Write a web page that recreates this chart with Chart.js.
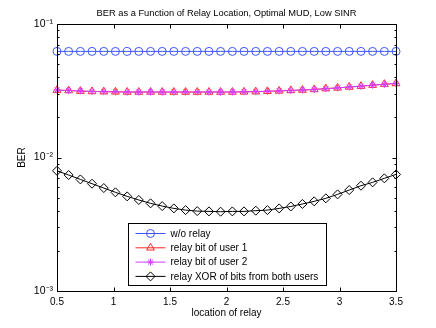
<!DOCTYPE html>
<html>
<head>
<meta charset="utf-8">
<script src="https://cdn.jsdelivr.net/npm/chart.js@4/dist/chart.umd.min.js"></script>
<style>
  html, body { margin: 0; padding: 0; background: #fff; }
  #wrap { width: 436px; height: 328px; }
</style>
</head>
<body>
<div id="wrap"><canvas id="berChart"></canvas></div>
<script>
// relay position (30 points from 0.5 to 3.5)
const relayLoc = [0.500, 0.603, 0.707, 0.810, 0.914, 1.017, 1.121, 1.224, 1.328, 1.431,
  1.534, 1.638, 1.741, 1.845, 1.948, 2.052, 2.155, 2.259, 2.362, 2.466,
  2.569, 2.672, 2.776, 2.879, 2.983, 3.086, 3.190, 3.293, 3.397, 3.500];

const berNoRelay = [0.0625, 0.0625, 0.0625, 0.0625, 0.0625, 0.0625, 0.0625, 0.0625, 0.0625, 0.0625,
  0.0625, 0.0625, 0.0625, 0.0625, 0.0625, 0.0625, 0.0625, 0.0625, 0.0625, 0.0625,
  0.0625, 0.0625, 0.0625, 0.0625, 0.0625, 0.0625, 0.0625, 0.0625, 0.0625, 0.0625];

const berUser1 = [0.0320, 0.0318, 0.0315, 0.0313, 0.0312, 0.0311, 0.0310, 0.0310, 0.0310, 0.0310,
  0.0310, 0.0310, 0.0310, 0.0310, 0.0310, 0.0310, 0.0311, 0.0312, 0.0314, 0.0316,
  0.0319, 0.0321, 0.0324, 0.0329, 0.0333, 0.0338, 0.0343, 0.0349, 0.0355, 0.0359];

const berUser2 = [0.0321, 0.0318, 0.0316, 0.0313, 0.0312, 0.0311, 0.0310, 0.0310, 0.0310, 0.0310,
  0.0310, 0.0310, 0.0310, 0.0310, 0.0310, 0.0310, 0.0311, 0.0312, 0.0314, 0.0316,
  0.0318, 0.0321, 0.0324, 0.0328, 0.0333, 0.0338, 0.0343, 0.0349, 0.0354, 0.0360];

const berXor = [0.00796, 0.00740, 0.00686, 0.00637, 0.00591, 0.00549, 0.00512, 0.00481, 0.00454, 0.00433,
  0.00416, 0.00404, 0.00397, 0.00395, 0.00393, 0.00395, 0.00395, 0.00400, 0.00404, 0.00416,
  0.00430, 0.00449, 0.00470, 0.00495, 0.00530, 0.00571, 0.00615, 0.00652, 0.00699, 0.00748];

const xTicks = [0.5, 1, 1.5, 2, 2.5, 3, 3.5];
const yTicks = [0.001, 0.002, 0.003, 0.004, 0.005, 0.006, 0.007, 0.008, 0.009,
  0.01, 0.02, 0.03, 0.04, 0.05, 0.06, 0.07, 0.08, 0.09, 0.1];
const yMajor = { 0.001: "10⁻³", 0.01: "10⁻²", 0.1: "10⁻¹" };

const FONT = "'Liberation Sans', Arial, sans-serif";

function pts(arr) {
  return arr.map((v, i) => ({ x: relayLoc[i], y: v }));
}

function series(label, values, color, style, radius, order) {
  return {
    label: label,
    data: pts(values),
    order: order, // matlab: later lines sit on top
    borderColor: color,
    borderWidth: 1,
    pointStyle: style,
    pointRadius: radius,
    pointBorderColor: color,
    pointBackgroundColor: "rgba(0,0,0,0)",
    pointBorderWidth: 1,
    fill: false,
    tension: 0,
    clip: false,
  };
}

// MATLAB style frame, inward ticks and a legend box inside the axes
const matlabAxes = {
  id: "matlabAxes",
  afterDraw(chart) {
    const ctx = chart.ctx;
    const a = chart.chartArea;
    const xs = chart.scales.x;
    const ys = chart.scales.y;
    ctx.save();
    ctx.strokeStyle = "#000";
    ctx.lineWidth = 1;
    const L = Math.round(a.left) + 0.5, R = Math.round(a.right) + 0.5;
    const T = Math.round(a.top) + 0.5, B = Math.round(a.bottom) + 0.5;
    ctx.strokeRect(L, T, R - L, B - T);
    ctx.beginPath();
    xTicks.forEach((v) => {
      const px = Math.round(xs.getPixelForValue(v)) + 0.5;
      ctx.moveTo(px, B); ctx.lineTo(px, B - 4);
      ctx.moveTo(px, T); ctx.lineTo(px, T + 4);
    });
    yTicks.forEach((v) => {
      const py = Math.round(ys.getPixelForValue(v)) + 0.5;
      const len = yMajor[v] ? 4 : 2;
      ctx.moveTo(L, py); ctx.lineTo(L + len, py);
      ctx.moveTo(R, py); ctx.lineTo(R - len, py);
    });
    ctx.stroke();

    // legend
    const bx = Math.round(a.left) + 71.5, bw = 198;
    const bh = 62, by = Math.round(a.bottom) - 5.5 - bh;
    ctx.fillStyle = "#fff";
    ctx.fillRect(bx, by, bw, bh);
    ctx.strokeRect(bx, by, bw, bh);
    ctx.font = "10px " + FONT;
    ctx.textBaseline = "middle";
    chart.data.datasets.forEach((ds, i) => {
      const cy = by + 10 + i * 14.3;
      ctx.strokeStyle = ds.borderColor;
      ctx.beginPath();
      ctx.moveTo(bx + 7, cy); ctx.lineTo(bx + 37, cy);
      ctx.stroke();
      ctx.fillStyle = "rgba(0,0,0,0)";
      Chart.helpers.drawPoint(ctx, {
        pointStyle: ds.pointStyle,
        radius: ds.pointRadius,
        rotation: 0,
        borderWidth: 1,
      }, bx + 22, cy);
      ctx.fillStyle = "#000";
      ctx.fillText(ds.label, bx + 42, cy + 0.5);
    });
    ctx.restore();
  },
};

const ctx = document.getElementById("berChart");
new Chart(ctx, {
  type: "line",
  data: {
    datasets: [
      series("w/o relay", berNoRelay, "#3d55ff", "circle", 4, 3),
      series("relay bit of user 1", berUser1, "#ff2a2a", "triangle", 4.5, 2),
      series("relay bit of user 2", berUser2, "#d23cff", "star", 3.5, 1),
      series("relay XOR of bits from both users", berXor, "#000", "rectRot", 4.5, 0),
    ],
  },
  options: {
    responsive: true,
    maintainAspectRatio: false,
    animation: false,
    devicePixelRatio: 1,
    layout: { padding: { left: 0, right: 40, top: 0, bottom: 0 } },
    plugins: {
      legend: { display: false },
      tooltip: { enabled: false },
      title: {
        display: true,
        fullSize: false,
        text: "BER as a Function of Relay Location, Optimal MUD, Low SINR",
        color: "#000",
        font: { family: FONT, size: 9.3, weight: "normal" },
        padding: { top: 8, bottom: 5 },
      },
    },
    scales: {
      x: {
        type: "linear",
        min: 0.5,
        max: 3.5,
        afterBuildTicks: (s) => { s.ticks = xTicks.map((v) => ({ value: v })); },
        afterFit: (s) => { s.height = 37; },
        grid: { display: false, drawTicks: false },
        border: { display: false },
        ticks: {
          color: "#000",
          padding: 5,
          maxRotation: 0,
          font: { family: FONT, size: 10 },
          callback: (v) => String(v),
        },
        title: {
          display: true,
          text: "location of relay",
          color: "#000",
          font: { family: FONT, size: 10 },
          padding: { top: 9, bottom: 9 },
        },
      },
      y: {
        type: "logarithmic",
        min: 0.001,
        max: 0.1,
        afterBuildTicks: (s) => { s.ticks = yTicks.map((v) => ({ value: v })); },
        afterFit: (s) => { s.width = 57; },
        grid: { display: false, drawTicks: false },
        border: { display: false },
        ticks: {
          color: "#000",
          padding: 4,
          autoSkip: false,
          font: { family: FONT, size: 10.5 },
          callback: (v) => yMajor[v] || "",
        },
        title: {
          display: true,
          text: "BER",
          color: "#000",
          font: { family: FONT, size: 10 },
          padding: { top: 16, bottom: 16 },
        },
      },
    },
  },
  plugins: [matlabAxes],
});
</script>
</body>
</html>
